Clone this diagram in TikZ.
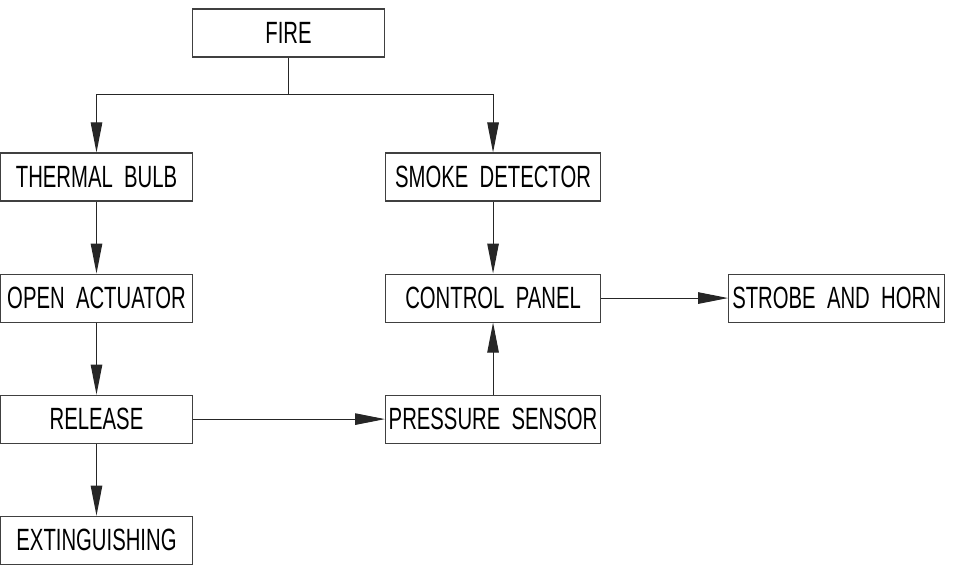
\documentclass[tikz,border=0pt]{standalone}
\usepackage{fontspec}
\setmainfont{Liberation Sans}[FakeStretch=0.66, WordSpace=2]
\usepackage{tikz}
\usetikzlibrary{arrows.meta, positioning}
\tikzset{
  basebox/.style={
    rectangle, draw=black!75, line width=0.6pt, align=center, inner sep=0pt,
    minimum height=0.96cm, font=\fontsize{17.5}{20}\selectfont
  },
  leftbox/.style={basebox, minimum width=3.84cm},
  rightbox/.style={basebox, minimum width=4.3cm},
  arrow/.style={-{Triangle[length=0.6cm, width=0.23cm]}, line width=0.6pt, color=black!85}
}
\begin{document}
\begin{tikzpicture}[node distance=1.44cm and 3.84cm]
  \useasboundingbox (0,0) rectangle (19.36,-11.52);
  \node[leftbox] (fire) at (5.77,-0.66) {FIRE};
  \node[leftbox] (thermal) at (1.93,-3.54) {THERMAL BULB};
  \node[rightbox, right=3.84cm of thermal] (smoke) {SMOKE DETECTOR};
  \node[leftbox, below=of thermal] (actuator) {OPEN ACTUATOR};
  \node[leftbox, below=of actuator] (release) {RELEASE};
  \node[leftbox, below=of release] (extinguish) {EXTINGUISHING};
  \node[rightbox, below=of smoke] (panel) {CONTROL PANEL};
  \node[rightbox, below=of panel] (pressure) {PRESSURE SENSOR};
  \node[rightbox, minimum width=4.32cm, right=2.54cm of panel] (strobe) {STROBE AND HORN};

  \draw[line width=0.6pt, black!85] (fire.south) -- ++(0,-0.74) coordinate (split);
  \draw[arrow] (split) -| (thermal.north);
  \draw[arrow] (split) -| (smoke.north);
  \draw[arrow] (thermal) -- (actuator);
  \draw[arrow] (actuator) -- (release);
  \draw[arrow] (release) -- (extinguish);
  \draw[arrow] (release) -- (pressure);
  \draw[arrow] (pressure) -- (panel);
  \draw[arrow] (smoke) -- (panel);
  \draw[arrow] (panel) -- (strobe);
\end{tikzpicture}
\end{document}
